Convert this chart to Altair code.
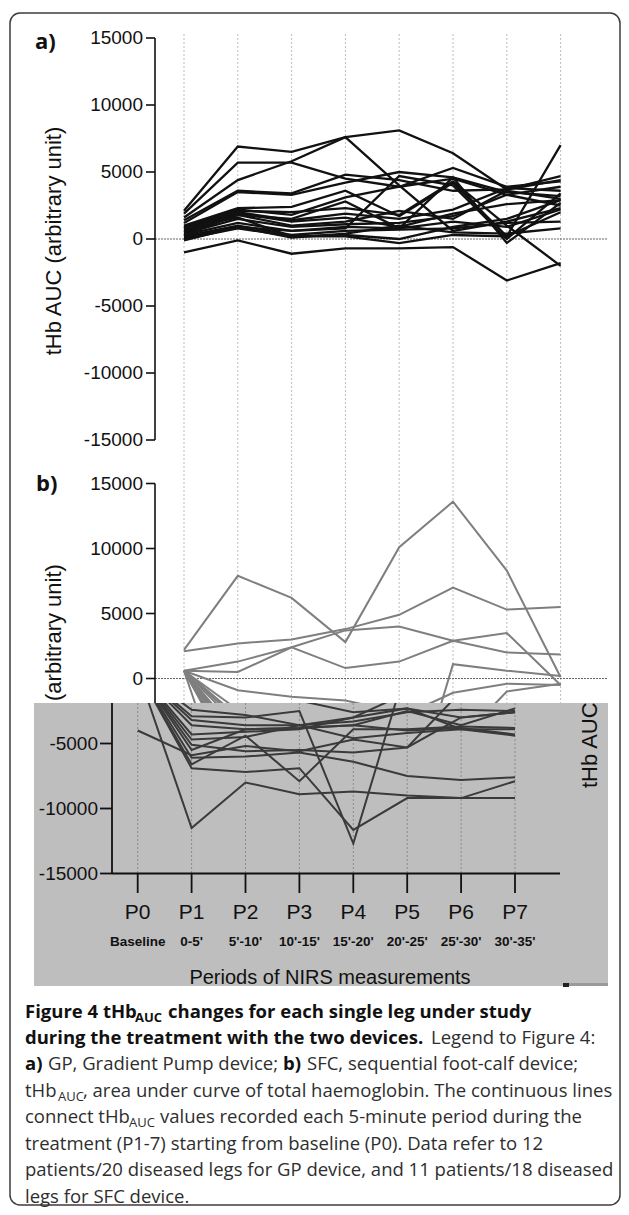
import altair as alt
import pandas as pd

# ---------------- data ----------------
periods = ["P0", "P1", "P2", "P3", "P4", "P5", "P6", "P7"]
period_spans = ["Baseline", "0-5'", "5'-10'", "10'-15'", "15'-20'", "20'-25'", "25'-30'", "30'-35'"]
y_tick_values = [15000, 10000, 5000, 0, -5000, -10000, -15000]
y_tick_labels = ["15000", "10000", "5000", "0", "-5000", "-10000", "-15000"]

# a) GP device, 20 legs
gp_legs = [
    [2100, 6900, 6500, 7600, 8100, 6400, 3700, 4400],
    [1600, 4400, 5800, 7600, 4000, 600, 1300, 2300],
    [1900, 5700, 5700, 4500, 3900, 4500, 3300, 3900],
    [1400, 3600, 3400, 4800, 4400, 3600, 3700, 4700],
    [1200, 3500, 3300, 4200, 5000, 4600, 3500, 3200],
    [1000, 2300, 2400, 3600, 1700, 4200, 200, 7000],
    [900, 2200, 1800, 3100, 3900, 5300, 3900, 4300],
    [800, 2100, 2000, 2300, 1800, 4300, 1000, -2000],
    [700, 2000, 1400, 1900, 1500, 2200, 3800, 3600],
    [600, 1900, 1300, 1600, 900, 1900, 2600, 2900],
    [500, 1800, 1000, 1300, 2100, 1500, 3600, 3000],
    [400, 1500, 900, 1100, 1200, 1700, 3300, 2500],
    [300, 1200, 600, 900, 800, 1300, 900, 2200],
    [200, 1000, 300, 600, 700, 800, 1200, 1300],
    [100, 900, 100, 400, 1000, 500, 400, 800],
    [0, 800, 200, 200, -300, 300, 200, 2000],
    [-100, 900, 600, 800, 4700, 4000, 0, 3400],
    [300, 1800, 1500, 2800, 800, 4600, -300, 2700],
    [800, 1600, 200, 300, 0, 900, 1500, 2900],
    [-1000, -100, -1100, -700, -700, -600, -3100, -1800],
]

# b) SFC device, 18 legs
sfc_legs = [
    [2200, 7900, 6200, 2800, 10100, 13600, 8300, 100],
    [2100, 2700, 3000, 3800, 4900, 7000, 5300, 5500],
    [600, 1300, 2400, 3700, 4000, 2900, 2000, 1850],
    [600, 500, 2400, 800, 1300, 2900, 3500, -500],
    [600, -900, -1400, -1700, -2600, -2300, -3000, -2600],
    [600, -2400, -2800, -3600, -3000, -1100, -400, -500],
    [600, -3200, -3600, -3600, -3300, -2600, -2400, -2500],
    [600, -3600, -3900, -3800, -3600, -2500, -3600, -2300],
    [600, -4300, -4100, -3900, -3000, -2300, -3900, -3900],
    [600, -4700, -4500, -3600, -4600, -4200, -3900, -4400],
    [600, -5100, -5600, -5500, -5700, -5300, -3000, -2600],
    [600, -6100, -6000, -5700, -6400, -7500, -7800, -7600],
    [600, -6900, -7200, -6900, -11650, -9200, -9200, -9200],
    [600, -11500, -8000, -8900, -8700, -9000, -9200, -7900],
    [-4000, -5900, -5200, -5600, -4700, -5300, -1000, -400],
    [600, -6600, -4400, -7900, -3900, -3900, -3700, -3800],
    [600, -2900, -3000, -2500, -12700, 1100, 600, 200],
    [600, -5500, -3900, -3800, -3600, -4000, -3800, -4300],
]

caption_lines = [
    [("Figure 4 tHb", "b"), ("AUC", "bs"), ("changes for each single leg under study", "b")],
    [("during the treatment with the two devices.", "b"), ("Legend to Figure 4:", "n")],
    [("a)", "b"), ("GP, Gradient Pump device;", "n"), ("b)", "b"), ("SFC, sequential foot-calf device;", "n")],
    [("tHb", "n"), ("AUC", "s"), (", area under curve of total haemoglobin. The continuous lines", "n")],
    [("connect tHb", "n"), ("AUC", "s"), ("values recorded each 5-minute period during the", "n")],
    [("treatment (P1-7) starting from baseline (P0). Data refer to 12", "n")],
    [("patients/20 diseased legs for GP device, and 11 patients/18 diseased", "n")],
    [("legs for SFC device.", "n")],
]


def to_long(legs, name):
    rows = []
    for i, vals in enumerate(legs):
        for j, (p, v) in enumerate(zip(periods, vals)):
            rows.append({"leg": f"{name}{i + 1}", "period": p, "idx": j, "value": v})
    return pd.DataFrame(rows)


df_a = to_long(gp_legs, "gp")
df_b = to_long(sfc_legs, "sfc")
df_p = pd.DataFrame({"period": periods, "span": period_spans})
df_t = pd.DataFrame({"v": y_tick_values, "label": y_tick_labels})
df_axis = pd.DataFrame({"top": [max(y_tick_values)], "bot": [min(y_tick_values)], "zero": [0]})
one = pd.DataFrame({"k": [0]})

# ---------------- scales (pixel ranges) ----------------
XA = alt.Scale(type="point", domain=periods, range=[176, 552.6], padding=0)
YA = alt.Scale(domain=[-15000, 15000], range=[432, 30])
YBU = alt.Scale(domain=[-15000, 15000], range=[865.5, 475.5])
XB = alt.Scale(type="point", domain=periods, range=[129.7, 507], padding=0)
YB = alt.Scale(domain=[-15000, 15000], range=[170.5, -219.5])

AX_FONT = "Liberation Sans"
CAP_FONT = "Open Sans"


def txt(text, x, y, size, weight="normal", font=AX_FONT, align="left",
        baseline="middle", angle=0, color="#111"):
    kw = dict(text=text, font=font, fontSize=size, fontWeight=weight,
              align=align, baseline=baseline, color=color)
    if angle:
        kw["angle"] = angle
    return alt.Chart(one).mark_text(**kw).encode(x=alt.value(x), y=alt.value(y))


def y_axis(ys, x_line, label_filter=None):
    base_t = alt.Chart(df_t)
    if label_filter is not None:
        base_t = base_t.transform_filter(label_filter)
    line = alt.Chart(df_axis).mark_rule(color="#111", strokeWidth=1.6).encode(
        x=alt.value(x_line),
        y=alt.Y("top:Q", scale=ys, axis=None), y2="bot:Q")
    ticks = base_t.mark_rule(color="#111", strokeWidth=1.6).encode(
        x=alt.value(x_line - 9), x2=alt.value(x_line),
        y=alt.Y("v:Q", scale=ys, axis=None))
    labels = base_t.mark_text(align="right", baseline="middle", font=AX_FONT,
                              fontSize=19, color="#111").encode(
        x=alt.value(x_line - 12), y=alt.Y("v:Q", scale=ys, axis=None), text="label:N")
    return [line, ticks, labels]


# ---------------- view A: panel a + upper part of panel b ----------------
frame = alt.Chart(one).mark_rect(fillOpacity=0, stroke="#3c3c3c", strokeWidth=1.5,
                                 cornerRadius=10).encode(
    x=alt.value(2), x2=alt.value(612), y=alt.value(5), y2=alt.value(1197))

grid_a = alt.Chart(df_p).mark_rule(color="#bdbdbd", strokeDash=[2, 2], strokeWidth=1).encode(
    x=alt.X("period:O", scale=XA, axis=None), y=alt.value(26), y2=alt.value(695))

zero_a = alt.Chart(df_axis).mark_rule(color="#666", strokeDash=[2, 1], strokeWidth=1).encode(
    y=alt.Y("zero:Q", scale=YA, axis=None), x=alt.value(147), x2=alt.value(600))
zero_b = alt.Chart(df_axis).mark_rule(color="#666", strokeDash=[2, 1], strokeWidth=1).encode(
    y=alt.Y("zero:Q", scale=YBU, axis=None), x=alt.value(147), x2=alt.value(600))

lines_a = alt.Chart(df_a).mark_line(color="#111", strokeWidth=2.3).encode(
    x=alt.X("period:O", scale=XA, axis=None),
    y=alt.Y("value:Q", scale=YA, axis=None),
    detail="leg:N", order="idx:Q")

lines_bu = alt.Chart(df_b).mark_line(color="#7f7f7f", strokeWidth=2).encode(
    x=alt.X("period:O", scale=XA, axis=None),
    y=alt.Y("value:Q", scale=YBU, axis=None),
    detail="leg:N", order="idx:Q")

layers_a = [frame, grid_a, zero_a, zero_b, lines_a, lines_bu]
layers_a += y_axis(YA, 147)
layers_a += y_axis(YBU, 147, label_filter="datum.v >= 0")
layers_a += [
    txt("tHb AUC (arbitrary unit)", 46, 233, 22, angle=270, align="center"),
    txt("(arbitrary unit)", 46, 693, 22, angle=270, align="left"),
    txt("a)", 27, 34, 22, weight="bold", font=CAP_FONT),
    txt("b)", 28, 476, 22, weight="bold", font=CAP_FONT),
]

view_a = alt.layer(*layers_a).resolve_scale(x="independent", y="independent").properties(
    width=613, height=695)

# ---------------- view B: shifted grey block + caption ----------------
grey = alt.Chart(one).mark_rect(color="#bebebe").encode(
    x=alt.value(26), x2=alt.value(600), y=alt.value(0), y2=alt.value(283))
grey_mark1 = alt.Chart(one).mark_rect(color="#222").encode(
    x=alt.value(555), x2=alt.value(561), y=alt.value(280), y2=alt.value(284))
grey_mark2 = alt.Chart(one).mark_rect(color="#9a9a9a").encode(
    x=alt.value(561), x2=alt.value(600), y=alt.value(280), y2=alt.value(283))

grid_b = alt.Chart(df_p).mark_rule(color="#8a8a8a", strokeDash=[2, 2], strokeWidth=1).encode(
    x=alt.X("period:O", scale=XB, axis=None), y=alt.value(0), y2=alt.value(170.5))

lines_bd = alt.Chart(df_b).mark_line(color="#3a3a3a", strokeWidth=2, clip=True).encode(
    x=alt.X("period:O", scale=XB, axis=None),
    y=alt.Y("value:Q", scale=YB, axis=None),
    detail="leg:N", order="idx:Q")

yline_b = alt.Chart(one).mark_rule(color="#111", strokeWidth=1.8).encode(
    x=alt.value(104), y=alt.value(0), y2=alt.value(170.5))
ticks_yb = alt.Chart(df_t).transform_filter("datum.v <= -5000").mark_rule(
    color="#111", strokeWidth=1.8).encode(
    x=alt.value(92), x2=alt.value(104), y=alt.Y("v:Q", scale=YB, axis=None))
labels_yb = alt.Chart(df_t).transform_filter("datum.v <= -5000").mark_text(
    align="right", baseline="middle", font=AX_FONT, fontSize=19, color="#111").encode(
    x=alt.value(90), y=alt.Y("v:Q", scale=YB, axis=None), text="label:N")

xline_b = alt.Chart(one).mark_rule(color="#111", strokeWidth=1.8).encode(
    x=alt.value(104), x2=alt.value(552), y=alt.value(170.5))
xticks_b = alt.Chart(df_p).mark_rule(color="#111", strokeWidth=1.8).encode(
    x=alt.X("period:O", scale=XB, axis=None), y=alt.value(170.5), y2=alt.value(190))
xlabels_b = alt.Chart(df_p).mark_text(font=AX_FONT, fontSize=21, color="#111",
                                      baseline="middle").encode(
    x=alt.X("period:O", scale=XB, axis=None), y=alt.value(210), text="period:N")
xspans_b = alt.Chart(df_p).mark_text(font=AX_FONT, fontSize=13.5, fontWeight="bold",
                                     color="#111", baseline="middle").encode(
    x=alt.X("period:O", scale=XB, axis=None), y=alt.value(239), text="span:N")

layers_b = [grey, grey_mark1, grey_mark2, grid_b, lines_bd, yline_b, ticks_yb, labels_yb,
            xline_b, xticks_b, xlabels_b, xspans_b,
            txt("Periods of NIRS measurements", 322, 275, 20, align="center"),
            txt("tHb AUC", 582, 85, 22, angle=270, align="left")]

# caption (x = left edge of each run of text)
cap_x = [
    [17, 127, 160],
    [17, 423],
    [17, 40, 275, 299],
    [17, 50, 75],
    [17, 121, 152],
    [17],
    [17],
    [17],
]
cap_base = [315, 341, 367, 394, 420, 447, 473, 500]
CAP_SIZE = 18.5
SUB_SIZE = 13
for line, xs, yb in zip(caption_lines, cap_x, cap_base):
    for (seg, style), x in zip(line, xs):
        weight = "bold" if "b" in style else "normal"
        color = "#111" if "b" in style else "#2e2e2e"
        if "s" in style:
            layers_b.append(txt(seg, x, yb + 4, SUB_SIZE, weight=weight, font=CAP_FONT,
                                baseline="alphabetic", color=color))
        else:
            layers_b.append(txt(seg, x, yb, CAP_SIZE, weight=weight, font=CAP_FONT,
                                baseline="alphabetic", color=color))

view_b = alt.layer(*layers_b).resolve_scale(x="independent", y="independent").properties(
    width=613, height=504)

chart = alt.vconcat(view_a, view_b, spacing=0, bounds="flush").properties(
    padding=0, background="white").configure_view(strokeWidth=0)

chart.save("out.html", embed_options={"renderer": "svg", "actions": False})
